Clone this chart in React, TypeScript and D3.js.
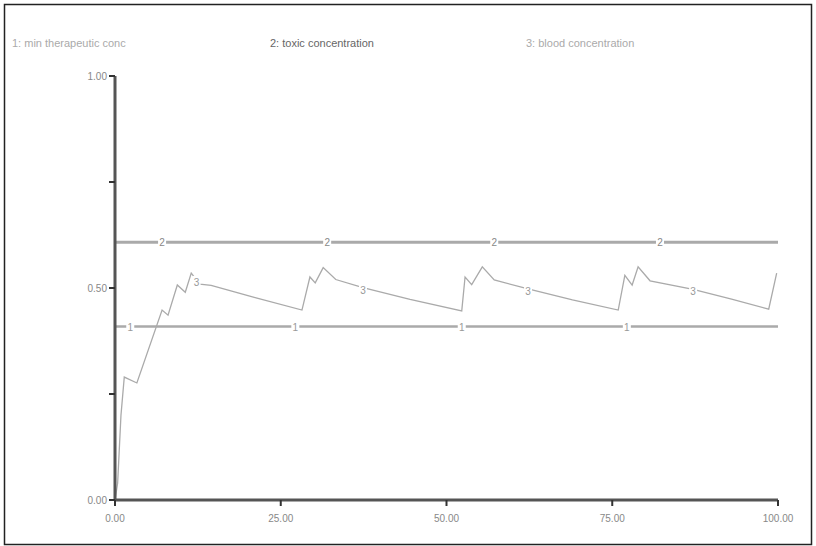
import React from 'react';
import * as d3 from 'd3';

// Drug level simulation chart: two threshold lines plus blood concentration curve.

const W = 816;
const H = 546;
const MARGIN = { top: 76, right: 38, bottom: 46, left: 115 };

const legendLabels = ['1: min therapeutic conc', '2: toxic concentration', '3: blood concentration'];
const xTicks = [0, 25, 50, 75, 100];
const yTicks = [0, 0.25, 0.5, 0.75, 1];
const yTickLabels = [0, 0.5, 1];

const minTherapeutic = 0.409;
const toxicLevel = 0.608;

// where the little series numbers sit along each line (x values)
const label1X = [2.3, 27.2, 52.3, 77.2];
const label2X = [7.1, 32.0, 57.2, 82.2];
const label3X = [12.3, 37.4, 62.3, 87.2];

// blood concentration [time, conc]
const blood: [number, number][] = [
  [0, 0], [0.4, 0.04], [0.9, 0.2], [1.4, 0.29], [3.3, 0.276], [7.1, 0.448], [8.0, 0.436],
  [9.4, 0.507], [10.6, 0.49], [11.5, 0.535], [12.8, 0.509], [14.5, 0.506], [21, 0.478],
  [28.2, 0.448], [29.4, 0.526], [30.2, 0.512], [31.4, 0.548], [33.3, 0.52], [37.4, 0.501],
  [44.5, 0.473], [52.3, 0.446], [52.8, 0.526], [53.8, 0.508], [55.4, 0.55], [57.2, 0.519],
  [62.3, 0.498], [69, 0.472], [75.9, 0.448], [76.9, 0.53], [78.0, 0.507], [78.9, 0.55],
  [80.7, 0.517], [87.2, 0.497], [93, 0.474], [98.6, 0.45], [99.8, 0.535],
];

const FONT = 'Liberation Sans, Arial, sans-serif';

export default function App() {
  const x = d3.scaleLinear().domain([0, 100]).range([MARGIN.left, W - MARGIN.right]);
  const y = d3.scaleLinear().domain([0, 1]).range([H - MARGIN.bottom, MARGIN.top]);
  const line = d3.line<[number, number]>().x(d => x(d[0])).y(d => y(d[1]));
  const bloodAt = (t: number) => {
    const i = d3.bisector((d: [number, number]) => d[0]).left(blood, t);
    const a = blood[Math.max(0, i - 1)];
    const b = blood[Math.min(blood.length - 1, i)];
    if (a[0] === b[0]) return a[1];
    return a[1] + ((t - a[0]) / (b[0] - a[0])) * (b[1] - a[1]);
  };

  const numLabel = (key: string, cx: number, cy: number, txt: string, col: string) => (
    <g key={key}>
      <rect x={cx - 4} y={cy - 6} width={8} height={12} fill="#fff" />
      <text x={cx} y={cy + 4} textAnchor="middle" fontSize={10} fill={col} fontFamily={FONT}>{txt}</text>
    </g>
  );

  return (
    <div style={{ position: 'absolute', left: 0, top: 0 }}>
      <svg width={W} height={H} style={{ display: 'block', background: '#fff' }}>
        <rect x={4.5} y={4.5} width={W - 9} height={H - 6} fill="none" stroke="#222" strokeWidth={1.5} />

        {legendLabels.map((t, i) => (
          <text key={t} x={[12, 270, 526][i]} y={47} fontSize={11} fontFamily={FONT}
            fill={i === 1 ? '#666' : '#aaa'}>{t}</text>
        ))}

        {/* threshold lines */}
        <line x1={x(0)} x2={x(100)} y1={y(toxicLevel)} y2={y(toxicLevel)} stroke="#aaa" strokeWidth={3} />
        <line x1={x(0)} x2={x(100)} y1={y(minTherapeutic)} y2={y(minTherapeutic)} stroke="#aaa" strokeWidth={2.5} />

        {/* blood curve */}
        <path d={line(blood) || ''} fill="none" stroke="#aaa" strokeWidth={1.3} />

        {label2X.map((t, i) => numLabel('l2' + i, x(t), y(toxicLevel), '2', '#888'))}
        {label1X.map((t, i) => numLabel('l1' + i, x(t), y(minTherapeutic), '1', '#999'))}
        {label3X.map((t, i) => numLabel('l3' + i, x(t), y(bloodAt(t)) + 2, '3', '#999'))}

        {/* axes */}
        <line x1={x(0)} x2={x(0)} y1={y(0)} y2={y(1)} stroke="#555" strokeWidth={3} />
        <line x1={x(0)} x2={x(100)} y1={y(0)} y2={y(0)} stroke="#555" strokeWidth={3} />
        {yTicks.map(v => (
          <line key={'yt' + v} x1={x(0) - 6} x2={x(0)} y1={y(v)} y2={y(v)} stroke="#333" strokeWidth={2} />
        ))}
        {yTickLabels.map(v => (
          <text key={'yl' + v} x={x(0) - 8} y={y(v) + 4} textAnchor="end" fontSize={10} fill="#888" fontFamily={FONT}>
            {v.toFixed(2)}
          </text>
        ))}
        {xTicks.map(v => (
          <g key={'xt' + v}>
            <line x1={x(v)} x2={x(v)} y1={y(0)} y2={y(0) + 6} stroke="#333" strokeWidth={2} />
            <text x={x(v)} y={y(0) + 22} textAnchor="middle" fontSize={10} fill="#888" fontFamily={FONT}>
              {v.toFixed(2)}
            </text>
          </g>
        ))}
      </svg>
    </div>
  );
}
